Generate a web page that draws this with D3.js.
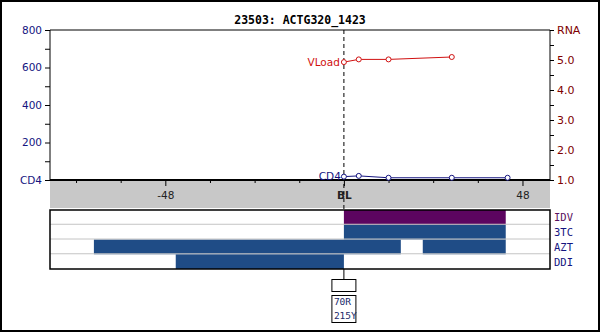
<!DOCTYPE html>
<html>
<head>
<meta charset="utf-8">
<script src="https://cdn.jsdelivr.net/npm/d3@7"></script>
<style>
  html, body { margin: 0; padding: 0; background: #fff; }
  svg { display: block; }
  text { font-family: "DejaVu Sans", sans-serif; }
  .mono { font-family: "DejaVu Sans Mono", monospace; }
</style>
</head>
<body>
<svg id="chart" width="600" height="332"></svg>
<script>
// Patient record: viral load and CD4 over time, with treatment history
const title = "23503: ACTG320_1423";

const vloadWeeks = [0, 4, 12, 29];
const vloadValues = [4.93, 5.02, 5.02, 5.1];

const cd4Weeks = [0, 4, 12, 29, 44];
const cd4Values = [18, 22, 12, 12, 12];

const cd4Ticks = [0, 200, 400, 600, 800];
const cd4TickLabels = ["CD4", "200", "400", "600", "800"];
const rnaTicks = [1, 2, 3, 4, 5, 6];
const rnaTickLabels = ["1.0", "2.0", "3.0", "4.0", "5.0", "RNA"];
const weekTicks = [-72, -60, -48, -36, -24, -12, 0, 12, 24, 36, 48];
const weekLabels = { "-48": "-48", "0": "BL", "48": "48" };

const drugs = ["IDV", "3TC", "AZT", "DDI"];
const drugPeriods = [
  { drug: "IDV", start: 0, end: 43.5 },
  { drug: "3TC", start: 0, end: 43.5 },
  { drug: "AZT", start: -67.2, end: 15.3 },
  { drug: "AZT", start: 21.2, end: 43.5 },
  { drug: "DDI", start: -45.2, end: 0 }
];
const mutations = ["70R", "215Y"];

const navy = "#14147f";
const maroon = "#800000";
const barBlue = "#1f4c86";
const barPurple = "#5c0560";
const red = "#d01010";

const svg = d3.select("#chart");

// outer frame
svg.append("rect").attr("x", 1).attr("y", 1).attr("width", 598).attr("height", 330)
  .attr("fill", "#fff").attr("stroke", "#000").attr("stroke-width", 2);

const x = d3.scaleLinear().domain([-79, 55.4]).range([50, 550]);
const yL = d3.scaleLinear().domain([0, 800]).range([180, 30]);
const yR = d3.scaleLinear().domain([1, 6]).range([180, 30]);

// title
svg.append("text").attr("class", "mono").attr("x", 300).attr("y", 24)
  .attr("text-anchor", "middle").attr("font-size", 11.5).attr("font-weight", "bold")
  .attr("fill", "#000").text(title);

// time band under the plot
svg.append("rect").attr("x", x.range()[0]).attr("y", 181)
  .attr("width", x.range()[1] - x.range()[0]).attr("height", 27).attr("fill", "#c8c8c8");

// plot frame: top, left and right edges
svg.append("path")
  .attr("d", `M${x.range()[0]},180V30H${x.range()[1]}V180`)
  .attr("fill", "none").attr("stroke", "#000").attr("stroke-width", 1);

// left axis (CD4)
const leftAxis = d3.axisLeft(yL)
  .tickValues(d3.range(0, 801, 100))
  .tickSize(5).tickPadding(3)
  .tickFormat(d => { const i = cd4Ticks.indexOf(d); return i >= 0 ? cd4TickLabels[i] : ""; });
const gL = svg.append("g").attr("transform", `translate(${x.range()[0]},0)`).call(leftAxis);
gL.select(".domain").remove();
gL.selectAll("line").attr("stroke", "#000");
gL.selectAll("text").attr("fill", navy).attr("font-size", 10.5)
  .attr("font-family", "DejaVu Sans, sans-serif");

// right axis (RNA)
const rightAxis = d3.axisRight(yR)
  .tickValues(d3.range(1, 6.01, 0.5))
  .tickSize(4).tickPadding(3)
  .tickFormat(d => { const i = rnaTicks.indexOf(d); return i >= 0 ? rnaTickLabels[i] : ""; });
const gR = svg.append("g").attr("transform", `translate(${x.range()[1]},0)`).call(rightAxis);
gR.select(".domain").remove();
gR.selectAll("line").attr("stroke", "#000");
gR.selectAll("text").attr("fill", maroon).attr("font-size", 11)
  .attr("font-family", "DejaVu Sans Mono, monospace");

// bottom time axis
const bottomAxis = d3.axisBottom(x)
  .tickValues(weekTicks).tickSize(3).tickPadding(0)
  .tickFormat(() => "");
const gB = svg.append("g").attr("transform", "translate(0,180)").call(bottomAxis);
gB.select(".domain").remove();
gB.selectAll(".tick line").attr("stroke", "#000")
  .attr("y2", d => (weekLabels[d] ? 6 : 3));
gB.selectAll(".tick").filter(d => weekLabels[d])
  .append("text").attr("y", 19).attr("text-anchor", "middle")
  .attr("font-size", 10.5).attr("fill", "#222")
  .attr("font-weight", d => (d === 0 ? "bold" : "normal"))
  .attr("font-family", "DejaVu Sans, sans-serif")
  .text(d => weekLabels[d]);
svg.append("line").attr("x1", x.range()[0]).attr("x2", x.range()[1])
  .attr("y1", 180).attr("y2", 180).attr("stroke", "#000").attr("stroke-width", 2);

// baseline marker
svg.append("line").attr("x1", x(0)).attr("x2", x(0)).attr("y1", 30).attr("y2", 209)
  .attr("stroke", "#000").attr("stroke-width", 1).attr("stroke-dasharray", "4,3");

// CD4 series
const cd4Pts = cd4Weeks.map((w, i) => [x(w), yL(cd4Values[i])]);
svg.append("path").attr("d", d3.line()(cd4Pts))
  .attr("fill", "none").attr("stroke", navy).attr("stroke-width", 1);
svg.selectAll(".cd4pt").data(cd4Pts).join("circle").attr("class", "cd4pt")
  .attr("cx", d => d[0]).attr("cy", d => d[1]).attr("r", 2.5)
  .attr("fill", "#fff").attr("stroke", navy).attr("stroke-width", 1);
svg.append("text").attr("x", cd4Pts[0][0] - 3).attr("y", cd4Pts[0][1] + 3)
  .attr("text-anchor", "end").attr("font-size", 10.5).attr("fill", navy).text("CD4");

// viral load series
const vlPts = vloadWeeks.map((w, i) => [x(w), yR(vloadValues[i])]);
svg.append("path").attr("d", d3.line()(vlPts))
  .attr("fill", "none").attr("stroke", red).attr("stroke-width", 1);
svg.selectAll(".vlpt").data(vlPts).join("circle").attr("class", "vlpt")
  .attr("cx", d => d[0]).attr("cy", d => d[1]).attr("r", 2.5)
  .attr("fill", "#fff").attr("stroke", red).attr("stroke-width", 1);
svg.append("text").attr("x", vlPts[0][0] - 4).attr("y", vlPts[0][1] + 4)
  .attr("text-anchor", "end").attr("font-size", 10.5).attr("fill", red).text("VLoad");

// treatment panel
const rows = d3.scaleBand().domain(drugs).range([210, 269]);
svg.append("rect").attr("x", x.range()[0]).attr("y", 210)
  .attr("width", x.range()[1] - x.range()[0]).attr("height", 59).attr("fill", "#fff");
svg.selectAll(".bar").data(drugPeriods).join("rect").attr("class", "bar")
  .attr("x", d => x(d.start)).attr("width", d => x(d.end) - x(d.start))
  .attr("y", d => rows(d.drug)).attr("height", rows.bandwidth())
  .attr("fill", d => (d.drug === "IDV" ? barPurple : barBlue));
svg.selectAll(".rowline").data(drugs.slice(1)).join("line").attr("class", "rowline")
  .attr("x1", x.range()[0]).attr("x2", x.range()[1])
  .attr("y1", d => rows(d) - 0.5).attr("y2", d => rows(d) - 0.5)
  .attr("stroke", "#c4c4c4").attr("stroke-width", 1);
svg.append("rect").attr("x", x.range()[0]).attr("y", 210)
  .attr("width", x.range()[1] - x.range()[0]).attr("height", 59)
  .attr("fill", "none").attr("stroke", "#000").attr("stroke-width", 1.5);
svg.selectAll(".druglabel").data(drugs).join("text").attr("class", "druglabel mono")
  .attr("x", x.range()[1] + 4).attr("y", d => rows(d) + rows.bandwidth() / 2 + 4)
  .attr("font-size", 10.5)
  .attr("fill", d => (d === "IDV" ? "#5a1060" : navy)).text(d => d);

// resistance mutations at baseline
svg.append("line").attr("x1", x(0)).attr("x2", x(0)).attr("y1", 269).attr("y2", 279)
  .attr("stroke", "#000").attr("stroke-width", 1);
svg.append("rect").attr("x", x(0) - 12).attr("y", 279.5).attr("width", 24).attr("height", 12)
  .attr("fill", "#fff").attr("stroke", "#000").attr("stroke-width", 1);
svg.append("rect").attr("x", x(0) - 12).attr("y", 295.5).attr("width", 24).attr("height", 27)
  .attr("fill", "#fff").attr("stroke", "#000").attr("stroke-width", 1);
svg.selectAll(".mut").data(mutations).join("text").attr("class", "mut mono")
  .attr("x", x(0) - 10).attr("y", (d, i) => 305 + i * 13.5)
  .attr("font-size", 9.5).attr("fill", "#1a2a6a").text(d => d);
</script>
</body>
</html>
